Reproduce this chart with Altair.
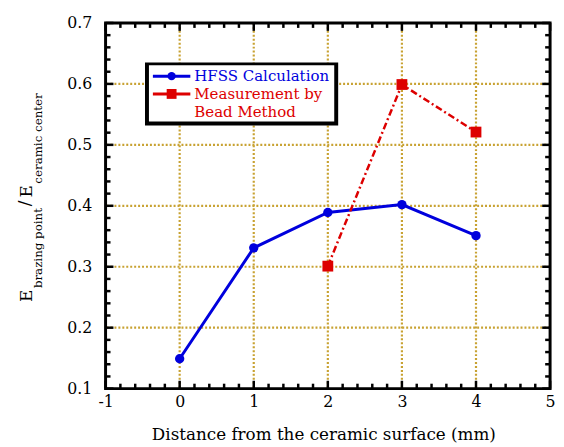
import altair as alt
import pandas as pd

# ---- data ----
hfss_x = [0, 1, 2, 3, 4]
hfss_y = [0.149, 0.331, 0.389, 0.402, 0.351]
bead_x = [2, 3, 4]
bead_y = [0.301, 0.599, 0.521]

x_ticks = [-1, 0, 1, 2, 3, 4, 5]
y_ticks = [0.1, 0.2, 0.3, 0.4, 0.5, 0.6, 0.7]
x_grid = [0, 1, 2, 3, 4]
y_grid = [0.2, 0.3, 0.4, 0.5, 0.6]
x_minor = [round(-1 + 0.2 * i, 3) for i in range(31) if i % 5]
y_minor = [round(0.1 + 0.02 * i, 3) for i in range(31) if i % 5]

legend_labels = ["HFSS Calculation", "Measurement by", "Bead Method"]
x_title = "Distance from the ceramic surface (mm)"

W, H = 451, 371
BLUE = "#0000dd"
RED = "#dd0000"
GRID = "#c8a232"
FONT = "DejaVu Serif"

xs = alt.Scale(domain=[-1, 5], nice=False, zero=False)
ys = alt.Scale(domain=[0.1, 0.7], nice=False, zero=False)
xaxis = alt.Axis(values=x_ticks, labelExpr="'' + datum.value", grid=False, ticks=False,
                 domain=False, labelFont=FONT, labelFontSize=16, labelColor="black",
                 labelPadding=5, labelFlush=False, labelOverlap=False, title=None)
yaxis = alt.Axis(values=y_ticks, format=".1f", grid=False, ticks=False, domain=False,
                 labelFont=FONT, labelFontSize=16, labelColor="black", labelPadding=14,
                 labelFlush=False, labelOverlap=False, title=None)


def X(f="v"):
    return alt.X(f"{f}:Q", scale=xs, axis=xaxis)


def Y(f="v"):
    return alt.Y(f"{f}:Q", scale=ys, axis=yaxis)


one = pd.DataFrame({"a": [0]})
hfss = pd.DataFrame({"x": hfss_x, "y": hfss_y})
bead = pd.DataFrame({"x": bead_x, "y": bead_y})

layers = []
# dotted grid
layers.append(alt.Chart(pd.DataFrame({"v": x_grid})).mark_rule(
    color=GRID, strokeWidth=2.2, strokeDash=[2, 2]).encode(x=X()))
layers.append(alt.Chart(pd.DataFrame({"v": y_grid})).mark_rule(
    color=GRID, strokeWidth=2.2, strokeDash=[2, 2]).encode(y=Y()))

# inward ticks on all four sides
for vals, ln in ((x_ticks, 8), (x_minor, 5)):
    d = pd.DataFrame({"v": vals})
    layers.append(alt.Chart(d).mark_rule(color="black", strokeWidth=2.5).encode(
        x=X(), y=alt.value(H), y2=alt.value(H - ln)))
    layers.append(alt.Chart(d).mark_rule(color="black", strokeWidth=2.5).encode(
        x=X(), y=alt.value(0), y2=alt.value(ln)))
for vals, ln in ((y_ticks, 8), (y_minor, 5)):
    d = pd.DataFrame({"v": vals})
    layers.append(alt.Chart(d).mark_rule(color="black", strokeWidth=2.5).encode(
        y=Y(), x=alt.value(0), x2=alt.value(ln)))
    layers.append(alt.Chart(d).mark_rule(color="black", strokeWidth=2.5).encode(
        y=Y(), x=alt.value(W), x2=alt.value(W - ln)))

# data series
layers.append(alt.Chart(hfss).mark_line(color=BLUE, strokeWidth=3).encode(x=X("x"), y=Y("y")))
layers.append(alt.Chart(hfss).mark_point(shape="circle", filled=True, opacity=1, size=90,
                                         color=BLUE).encode(x=X("x"), y=Y("y")))
layers.append(alt.Chart(bead).mark_line(color=RED, strokeWidth=2.5,
                                        strokeDash=[7, 3, 2, 3]).encode(x=X("x"), y=Y("y")))
layers.append(alt.Chart(bead).mark_point(shape="square", filled=True, opacity=1, size=120,
                                         color=RED).encode(x=X("x"), y=Y("y")))

# frame
layers.append(alt.Chart(one).mark_rect(filled=False, stroke="black", strokeWidth=3).encode(
    x=alt.value(0), x2=alt.value(W), y=alt.value(0), y2=alt.value(H)))

# legend box with shadow
layers.append(alt.Chart(one).mark_rect(color="black").encode(
    x=alt.value(40), x2=alt.value(236), y=alt.value(40), y2=alt.value(104)))
layers.append(alt.Chart(one).mark_rect(color="white").encode(
    x=alt.value(44), x2=alt.value(232), y=alt.value(43), y2=alt.value(100)))
layers.append(alt.Chart(one).mark_rule(color=BLUE, strokeWidth=3).encode(
    x=alt.value(48), x2=alt.value(86), y=alt.value(54)))
layers.append(alt.Chart(one).mark_point(shape="circle", filled=True, opacity=1, size=70,
                                        color=BLUE).encode(x=alt.value(67), y=alt.value(54)))
layers.append(alt.Chart(one).mark_rule(color=RED, strokeWidth=3).encode(
    x=alt.value(48), x2=alt.value(86), y=alt.value(72)))
layers.append(alt.Chart(one).mark_point(shape="square", filled=True, opacity=1, size=100,
                                        color=RED).encode(x=alt.value(67), y=alt.value(72)))
for txt, yy, col in ((legend_labels[0], 59, BLUE), (legend_labels[1], 77, RED),
                     (legend_labels[2], 95, RED)):
    layers.append(alt.Chart(one).mark_text(text=txt, align="left", baseline="alphabetic",
                                           font=FONT, fontSize=15.2, color=col).encode(
        x=alt.value(90), y=alt.value(yy)))

# x title
layers.append(alt.Chart(one).mark_text(text=x_title, align="center", baseline="alphabetic",
                                       font=FONT, fontSize=17, color="black").encode(
    x=alt.value(221.5), y=alt.value(423)))

# y title with subscripts (E_brazing point / E_ceramic center)
for txt, xx, yy, fs in (("E", -75, 283, 17), ("brazing point", -65, 269, 12),
                        ("/", -77, 186, 17), ("E", -75, 177, 17),
                        ("ceramic center", -65, 163, 12)):
    layers.append(alt.Chart(one).mark_text(text=txt, angle=270, align="left",
                                           baseline="alphabetic", font=FONT, fontSize=fs,
                                           color="black").encode(
        x=alt.value(xx), y=alt.value(yy)))

chart = alt.layer(*layers).properties(
    width=W, height=H,
    autosize=alt.AutoSizeParams(type="none"),
    padding={"left": 99, "top": 12, "right": 6, "bottom": 54},
).configure_view(stroke=None).configure(background="white")

chart.save("out.html", embed_options={"renderer": "svg", "actions": False})
